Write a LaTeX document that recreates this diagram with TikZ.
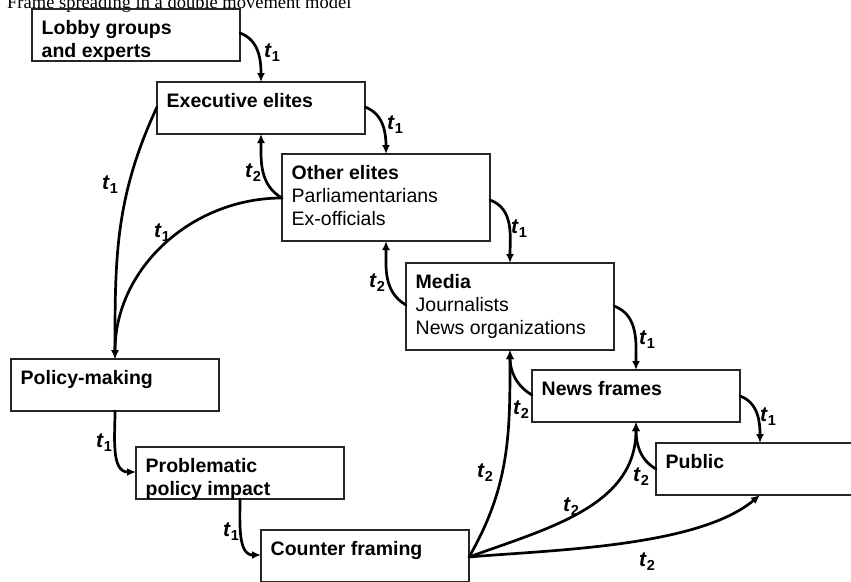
\documentclass[tikz,border=0pt]{standalone}
\usepackage{fontspec}
\setmainfont{Liberation Sans}
\newfontfamily\titlefont{Liberation Serif}
\usetikzlibrary{arrows.meta}
\newcommand\tlab[1]{\textbf{\textit{t}}\kern0.2pt\raisebox{-4pt}{\fontsize{14.5}{14.5}\selectfont\bfseries #1}}
\begin{document}
\begin{tikzpicture}[x=1pt,y=1pt,
  box/.style={draw=black!85, line width=1.2pt, minimum width=208pt, minimum height=52pt, anchor=north west, inner sep=0pt, outer sep=0pt},
  tallbox/.style={box, minimum height=87pt},
  txt/.style={anchor=north west, inner sep=0pt, align=left, font=\fontsize{19.5}{23}\selectfont},
  arr/.style={line width=2.7pt, line cap=round, -{Latex[length=9pt,width=8pt]}},
  lab/.style={inner sep=0pt, font=\fontsize{21}{21}\selectfont},
  titlef/.style={inner sep=0pt, font=\titlefont\fontsize{18.5}{18.5}\selectfont}]
\useasboundingbox (0,0) rectangle (851,-581);
\clip (0,0) rectangle (851,-581);
\node[titlef, anchor=base west] (title) at (7,-8) {Frame spreading in a double movement model};
% boxes
\node[box] (lobby) at (32,-9) {};
\node[box] (exec) at (157,-82) {};
\node[tallbox] (other) at (282,-154) {};
\node[tallbox] (media) at (406,-263) {};
\node[box] (news) at (532,-370) {};
\node[box] (policy) at (11,-359) {};
\node[box] (problem) at (136,-447) {};
\node[box] (counter) at (261,-530) {};
\node[box] (public) at (656,-443) {};
% texts
\node[txt] (lobbyt) at ([shift={(9.5,-9)}]lobby.north west) {\strut\textbf{Lobby groups}\\\textbf{and experts}};
\node[txt] (exect) at ([shift={(9.5,-9)}]exec.north west) {\strut\textbf{Executive elites}};
\node[txt] (othert) at ([shift={(9.5,-9)}]other.north west) {\strut\textbf{Other elites}\\Parliamentarians\\Ex-officials};
\node[txt] (mediat) at ([shift={(9.5,-9)}]media.north west) {\strut\textbf{Media}\\Journalists\\News organizations};
\node[txt] (newst) at ([shift={(9.5,-9)}]news.north west) {\strut\textbf{News frames}};
\node[txt] (policyt) at ([shift={(9.5,-9)}]policy.north west) {\strut\textbf{Policy-making}};
\node[txt] (problemt) at ([shift={(9.5,-9)}]problem.north west) {\strut\textbf{Problematic}\\\textbf{policy impact}};
\node[txt] (countert) at ([shift={(9.5,-9)}]counter.north west) {\strut\textbf{Counter framing}};
\node[txt] (publict) at ([shift={(9.5,-9)}]public.north west) {\strut\textbf{Public}};
% t1 forward chain
\draw[arr] ([yshift=-24pt]lobby.north east) to[out=-20,in=90] (exec.north);
\draw[arr] ([yshift=-25pt]exec.north east) to[out=-20,in=90] (other.north);
\draw[arr] ([yshift=-46pt]other.north east) to[out=-20,in=90] (media.north);
\draw[arr] ([yshift=-43pt]media.north east) to[out=-20,in=90] (news.north);
\draw[arr] ([yshift=-26pt]news.north east) to[out=-20,in=90] (public.north);
\draw[arr] ([yshift=-25pt]exec.north west) to[out=-115,in=90] (policy.north);
\draw[arr] ([yshift=-44pt]other.north west) to[out=180,in=90] (policy.north);
\draw[arr] (policy.south) to[out=-90,in=180] ([yshift=-25pt]problem.north west);
\draw[arr] (problem.south) to[out=-90,in=180] ([yshift=-25pt]counter.north west);
% t2 backward
\draw[arr] ([yshift=-42pt]media.north west) to[out=150,in=-90] (other.south);
\draw[arr] ([yshift=-44pt]other.north west) to[out=150,in=-90] (exec.south);
\draw[arr] ([yshift=-25pt]news.north west) to[out=150,in=-90] (media.south);
\draw[arr] ([yshift=-26pt]public.north west) to[out=150,in=-90] (news.south);
\draw[arr] ([yshift=-27pt]counter.north east) to[out=60,in=-90] (media.south);
\draw[arr] ([yshift=-27pt]counter.north east) to[out=20,in=-90] (news.south);
\draw[arr] ([yshift=-27pt]counter.north east) to[out=5,in=-140,looseness=0.7] (public.south);
% labels
\node[lab] (l1) at (272,-53) {\tlab{1}};
\node[lab] (l2) at (395,-125) {\tlab{1}};
\node[lab] (l3) at (519,-229) {\tlab{1}};
\node[lab] (l4) at (647,-340) {\tlab{1}};
\node[lab] (l5) at (768,-417) {\tlab{1}};
\node[lab] (l6) at (110,-185) {\tlab{1}};
\node[lab] (l7) at (162,-233) {\tlab{1}};
\node[lab] (l8) at (104,-443) {\tlab{1}};
\node[lab] (l9) at (231,-532) {\tlab{1}};
\node[lab] (l10) at (377,-283) {\tlab{2}};
\node[lab] (l11) at (253,-173) {\tlab{2}};
\node[lab] (l12) at (521,-410) {\tlab{2}};
\node[lab] (l13) at (641,-477) {\tlab{2}};
\node[lab] (l14) at (485,-473) {\tlab{2}};
\node[lab] (l15) at (571,-507) {\tlab{2}};
\node[lab] (l16) at (647,-562) {\tlab{2}};
\end{tikzpicture}
\end{document}
